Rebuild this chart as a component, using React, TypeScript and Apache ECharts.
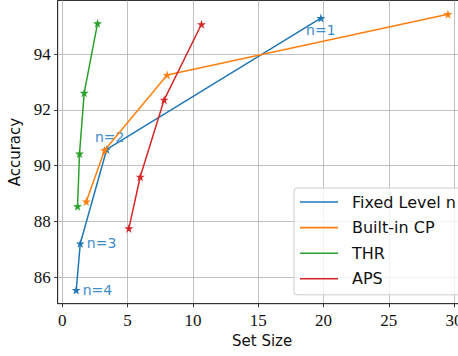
import React, { useEffect, useRef } from "react";
import * as echarts from "echarts";

const seriesNames = ["Fixed Level n", "Built-in CP", "THR", "APS"];
const fixedX = [19.8, 3.4, 1.38, 1.07];
const fixedY = [95.29, 90.58, 87.21, 85.54];
const fixedLabels = ["n=1", "n=2", "n=3", "n=4"];
const cpX = [1.84, 3.24, 8.03, 29.53];
const cpY = [88.71, 90.55, 93.25, 95.43];
const thrX = [1.17, 1.32, 1.68, 2.7];
const thrY = [88.54, 90.43, 92.61, 95.1];
const apsX = [5.1, 5.97, 7.8, 10.66];
const apsY = [87.75, 89.6, 92.36, 95.07];
const xTicks = [0, 5, 10, 15, 20, 25, 30];
const yTicks = [86, 88, 90, 92, 94];
const xTitle = "Set Size";
const yTitle = "Accuracy";

const colors = ["#1f77b4", "#ff7f0e", "#2ca02c", "#d62728"];
const STAR =
  "path://M0,-1 L0.2245,-0.309 L0.951,-0.309 L0.363,0.118 L0.588,0.809 L0,0.382 L-0.588,0.809 L-0.363,0.118 L-0.951,-0.309 L-0.2245,-0.309 Z";

const labelStyles: any[] = [
  { position: "inside", offset: [0, 12] },
  { position: "inside", offset: [3, -12] },
  { position: "right", distance: 2 },
  { position: "right", distance: 2 },
];

export default function App() {
  const ref = useRef<HTMLDivElement>(null);
  useEffect(() => {
    document.body.style.margin = "0";
    document.body.style.overflow = "hidden";
    const chart = echarts.init(ref.current!, undefined, { renderer: "svg" });
    const sets = [
      [fixedX, fixedY],
      [cpX, cpY],
      [thrX, thrY],
      [apsX, apsY],
    ];
    const sans = "DejaVu Sans";
    const serif = "Liberation Serif";
    const series = sets.map(([xs, ys], si) => ({
      name: seriesNames[si],
      type: "line",
      symbol: STAR,
      symbolSize: 9,
      showSymbol: true,
      color: colors[si],
      lineStyle: { width: 1.5, color: colors[si] },
      itemStyle: { color: colors[si] },
      data: xs.map((x, i) => {
        const d: any = { value: [x, ys[i]] };
        if (si === 0) {
          d.label = {
            show: true,
            formatter: fixedLabels[i],
            color: "#3d8dcb",
            fontFamily: sans,
            fontSize: 14,
            ...labelStyles[i],
          };
        }
        return d;
      }),
      z: 2 + si,
    }));
    chart.setOption({
      animation: false,
      textStyle: { fontFamily: serif, fontSize: 17, color: "#111" },
      grid: {
        left: 57.7,
        right: 13.5,
        top: 0.5,
        bottom: 52.3,
        outerBoundsMode: "none",
        containLabel: false,
        show: true,
        borderColor: "#333",
        borderWidth: 1,
        backgroundColor: "transparent",
      },
      legend: {
        data: seriesNames.map((n) => ({ name: n, icon: "rect" })),
        orient: "vertical",
        left: 294,
        top: 188,
        itemWidth: 38,
        itemHeight: 1.6,
        itemGap: 5.6,
        padding: [4, 10, 6, 6],
        backgroundColor: "rgba(255,255,255,0.8)",
        borderColor: "#cccccc",
        borderWidth: 1,
        borderRadius: 3,
        textStyle: {
          fontFamily: sans,
          fontSize: 16,
          color: "#111",
          lineHeight: 20,
          padding: [0, 0, 0, 9],
        },
      },
      xAxis: {
        type: "value",
        min: -0.35,
        max: 30.95,
        name: xTitle,
        nameLocation: "middle",
        nameGap: 27,
        nameTextStyle: { fontFamily: sans, fontSize: 15, color: "#111" },
        axisLine: { show: true, onZero: false, lineStyle: { color: "#333", width: 1 } },
        axisTick: { show: true, length: 3.5, customValues: xTicks, lineStyle: { color: "#333" } },
        axisLabel: {
          customValues: xTicks,
          margin: 8,
          fontFamily: serif,
          fontSize: 17,
          color: "#111",
        },
        splitLine: { show: true, lineStyle: { color: "#b0b0b0", width: 0.8 } },
      },
      yAxis: {
        type: "value",
        min: 85.05,
        max: 95.92,
        name: yTitle,
        nameLocation: "middle",
        nameGap: 32,
        nameTextStyle: { fontFamily: sans, fontSize: 15, color: "#111" },
        axisLine: { show: true, onZero: false, lineStyle: { color: "#333", width: 1 } },
        axisTick: { show: true, length: 3.5, customValues: yTicks, lineStyle: { color: "#333" } },
        axisLabel: {
          customValues: yTicks,
          margin: 7,
          fontFamily: serif,
          fontSize: 17,
          color: "#111",
        },
        splitLine: { show: true, lineStyle: { color: "#b0b0b0", width: 0.8 } },
      },
      series,
    });
    return () => chart.dispose();
  }, []);
  return <div ref={ref} style={{ width: 480, height: 356 }} />;
}
